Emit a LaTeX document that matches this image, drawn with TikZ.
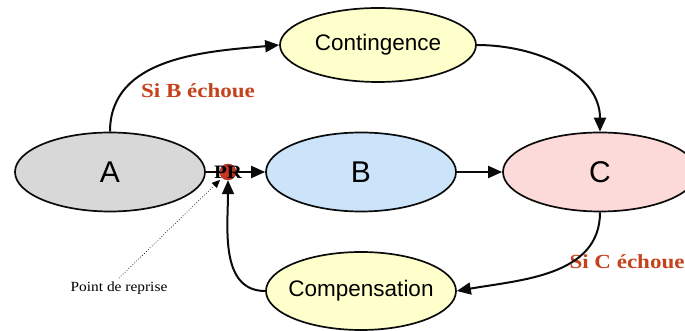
\documentclass[tikz,border=0pt]{standalone}
\usepackage{fontspec}
\setmainfont{Liberation Serif}
\setsansfont{Liberation Sans}
\usetikzlibrary{arrows.meta,shapes.geometric}
\definecolor{Ink}{HTML}{0B0B0B}
\definecolor{SoftGrey}{HTML}{D8D8D8}
\definecolor{SoftBlue}{HTML}{CCE4FA}
\definecolor{SoftPink}{HTML}{FCDADA}
\definecolor{SoftYellow}{HTML}{FFFFCC}
\definecolor{AlertRed}{HTML}{C4431D}
\definecolor{DotRed}{HTML}{C9341C}

\begin{document}
\begin{tikzpicture}[x=10pt, y=10pt,
    stage/.style={ellipse, draw=Ink, line width=1.7pt, inner sep=0pt, minimum width=190pt, minimum height=79pt, font=\sffamily\fontsize{30}{32}\selectfont},
    task/.style={stage, fill=SoftYellow, inner xsep=-8pt, font=\sffamily\fontsize{22.5}{24}\selectfont},
    flow/.style={-{Triangle[length=14pt,width=12pt]}, Ink, line width=2pt},
    fail/.style={text=AlertRed, font=\bfseries\fontsize{20}{22}\selectfont, xscale=1.15}]
  \clip (0,0) rectangle (68.5,33.1);
  \node[stage, fill=SoftGrey] (A) at (11.0,15.9) {A};
  \node[stage, fill=SoftBlue] (B) at (36.1,15.9) {B};
  \node[stage, fill=SoftPink, minimum width=194pt] (C) at (60.0,15.9) {C};
  \node[task, minimum width=196pt, minimum height=74pt] (Contingence) at (37.8,28.6) {Contingence};
  \node[task, minimum height=78pt] (Compensation) at (36.1,4.0) {Compensation};
  \node[circle, fill=DotRed, draw=DotRed!70!black, minimum size=16pt, inner sep=0pt] (PR) at (22.8,15.9) {};
  \node[fail] (failB) at (19.8,24.0) {Si B échoue};
  \node[fail] (failC) at (62.7,6.9) {Si C échoue};
  \node[font=\fontsize{14}{16}\selectfont, xscale=1.1] (reprise) at (11.9,4.3) {Point de reprise};
  % connectors
  \draw[flow] (A.north) to[out=90, in=185] (Contingence.west);
  \draw[flow] (Contingence.east) to[out=0, in=90] (C.north);
  \draw[Ink, line width=2pt] (A.east) -- (PR);
  \draw[flow] (PR) -- (B.west);
  \draw[flow] (B.east) -- (C.west);
  \draw[flow] (C.south) to[out=-90, in=10] (Compensation.east);
  \draw[flow] (Compensation.west) to[out=180, in=-90] (PR.south);
  \draw[dotted, -{Triangle[length=8pt,width=7pt]}, line width=0.7pt, shorten >=3pt] (reprise.north) -- (PR.south west);
  \node[font=\bfseries\fontsize{19}{20}\selectfont, xscale=1.1] (PRtext) at (PR) {PR};
\end{tikzpicture}
\end{document}
